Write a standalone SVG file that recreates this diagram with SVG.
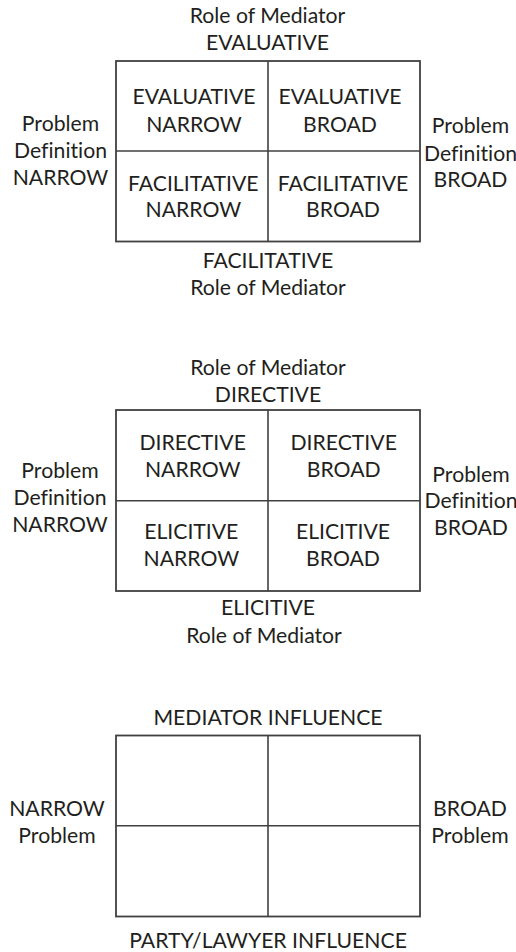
<svg xmlns="http://www.w3.org/2000/svg" width="516" height="952" viewBox="0 0 516 952">
<style>
text{font-family:Lato,"Open Sans","Liberation Sans",sans-serif;font-size:21.2px;fill:#231f20;text-anchor:middle;font-variant-ligatures:none}
.box{fill:none;stroke:#404040;stroke-width:1.8}
.div{stroke:#404040;stroke-width:1.6}
</style>
<rect width="516" height="952" fill="#fff"/>
<g id="matrix1">
<g id="m1-grid"><rect class="box" x="116" y="61" width="304" height="180.5"/></g>
<g id="m1-top"><text x="267.5" y="23.3">Role of Mediator</text><text x="267.5" y="50">EVALUATIVE</text></g>
<g id="m1-tl"><text x="194" y="104.3">EVALUATIVE</text><text x="194" y="131.7">NARROW</text></g>
<g id="m1-tr"><text x="340" y="104.3">EVALUATIVE</text><text x="340" y="131.7">BROAD</text></g>
<g id="m1-bl"><text x="193.3" y="190.7">FACILITATIVE</text><text x="193.3" y="217.3">NARROW</text></g>
<g id="m1-br"><text x="343" y="190.7">FACILITATIVE</text><text x="343" y="217.3">BROAD</text></g>
<g id="m1-left"><text x="60.5" y="131">Problem</text><text x="60.5" y="158.3">Definition</text><text x="60.5" y="185">NARROW</text></g>
<g id="m1-right"><text x="470.5" y="133.3">Problem</text><text x="470.5" y="160.7">Definition</text><text x="470.5" y="186.7">BROAD</text></g>
<g id="m1-bottom"><text x="268" y="267.7">FACILITATIVE</text><text x="268" y="295">Role of Mediator</text></g>
</g>
<g id="matrix2">
<g id="m2-grid"><rect class="box" x="116" y="410" width="304" height="181"/></g>
<g id="m2-top"><text x="268" y="375">Role of Mediator</text><text x="268" y="401.7">DIRECTIVE</text></g>
<g id="m2-tl"><text x="192.7" y="450">DIRECTIVE</text><text x="192.7" y="476.7">NARROW</text></g>
<g id="m2-tr"><text x="343.7" y="450">DIRECTIVE</text><text x="343.7" y="476.7">BROAD</text></g>
<g id="m2-bl"><text x="191.3" y="539">ELICITIVE</text><text x="191.3" y="565.7">NARROW</text></g>
<g id="m2-br"><text x="343" y="539">ELICITIVE</text><text x="343" y="565.7">BROAD</text></g>
<g id="m2-left"><text x="60" y="478.3">Problem</text><text x="60" y="505">Definition</text><text x="60" y="531.7">NARROW</text></g>
<g id="m2-right"><text x="471" y="481.7">Problem</text><text x="471" y="508.3">Definition</text><text x="471" y="535">BROAD</text></g>
<g id="m2-bottom"><text x="268" y="615">ELICITIVE</text><text x="264" y="642.7">Role of Mediator</text></g>
</g>
<g id="matrix3">
<g id="m3-grid"><rect class="box" x="116" y="735.5" width="304" height="181"/></g>
<g id="m3-top"><text x="268" y="725">MEDIATOR INFLUENCE</text></g>
<g id="m3-left"><text x="57" y="815.7">NARROW</text><text x="57" y="842.7">Problem</text></g>
<g id="m3-right"><text x="470" y="815.7">BROAD</text><text x="470" y="842.7">Problem</text></g>
<g id="m3-bottom"><text x="268" y="948.3">PARTY/LAWYER INFLUENCE</text></g>
</g>
<g id="connectors">
<line class="div" x1="268" y1="61" x2="268" y2="241.5"/>
<line class="div" x1="116" y1="151" x2="420" y2="151"/>
<line class="div" x1="268" y1="410" x2="268" y2="591"/>
<line class="div" x1="116" y1="500.7" x2="420" y2="500.7"/>
<line class="div" x1="268" y1="735.5" x2="268" y2="916.5"/>
<line class="div" x1="116" y1="825.7" x2="420" y2="825.7"/>
</g>
</svg>
